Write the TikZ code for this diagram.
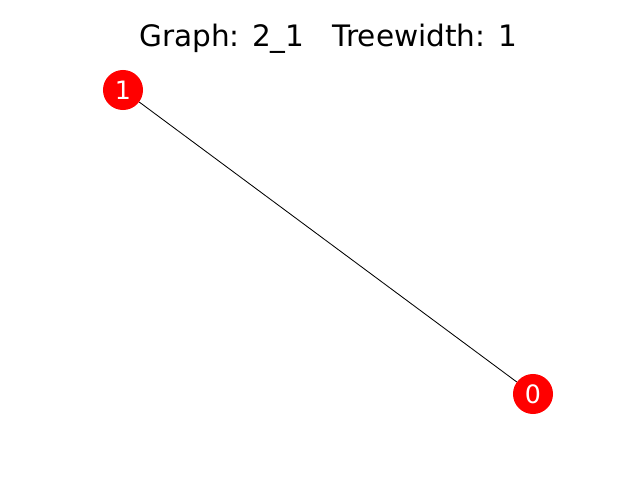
\documentclass[tikz,border=0pt]{standalone}
\usepackage{fontspec}
\setmainfont{DejaVu Sans}
\tikzset{
  vertex/.style={circle,fill=red,draw=none,minimum size=1cm,inner sep=0pt,text=white,font=\fontsize{18}{18}\selectfont},
  edge/.style={draw=black,line width=0.6pt}
}
\begin{document}
\begin{tikzpicture}[x=0.025cm,y=-0.025cm]
		\useasboundingbox (0,0) rectangle (640,480);
		\node (title) at (328,39) {\fontsize{21}{21}\selectfont Graph: 2\_1\ \ \ Treewidth: 1};
		\node[vertex] (v1) at (123,90) {1};
		\node[vertex] (v0) at (533,394) {0};
		\draw[edge] (v1) -- (v0);
		\end{tikzpicture}
\end{document}
